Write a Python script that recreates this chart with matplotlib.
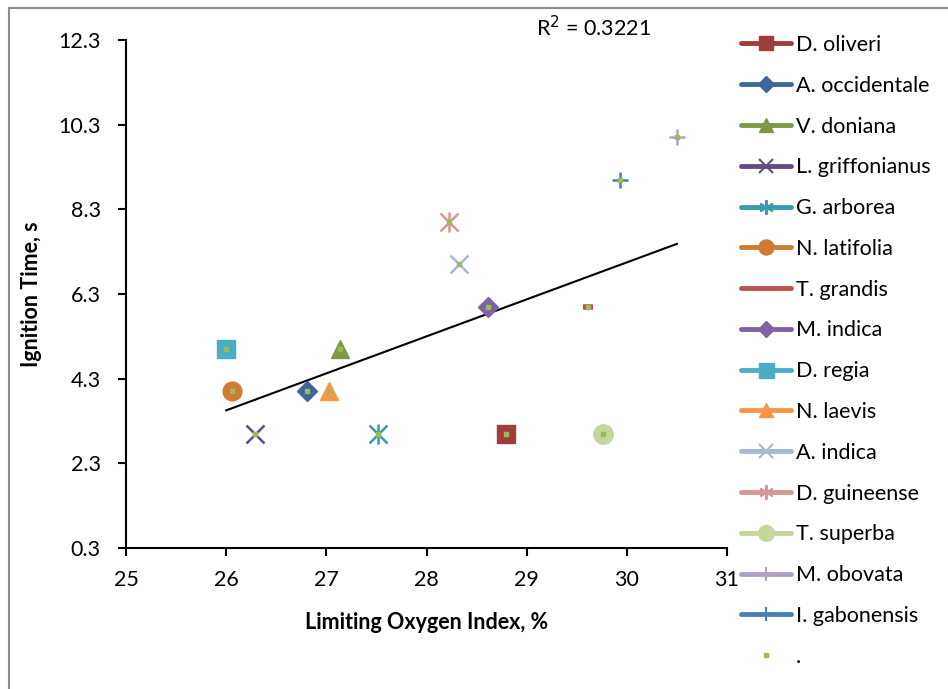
import numpy as np
import matplotlib.pyplot as plt
from matplotlib.lines import Line2D
from matplotlib.patches import Rectangle

plt.rcParams['font.family'] = ['Lato', 'DejaVu Sans']

species = ['D. oliveri', 'A. occidentale', 'V. doniana', 'L. griffonianus',
           'G. arborea', 'N. latifolia', 'T. grandis', 'M. indica', 'D. regia',
           'N. laevis', 'A. indica', 'D. guineense', 'T. superba', 'M. obovata',
           'I. gabonensis']
loi = [28.79, 26.81, 27.14, 26.29, 27.52, 26.06, 29.61, 28.61, 26.00,
       27.03, 28.32, 28.22, 29.76, 30.50, 29.93]
ign_time = [3.0, 4.0, 5.0, 3.0, 3.0, 4.0, 6.0, 6.0, 5.0, 4.0, 7.0, 8.0, 3.0, 10.0, 9.0]

colors = ['#9E3D3A', '#3D679C', '#7D9945', '#664C85', '#3A9AAF', '#D07A33',
          '#C0504D', '#7F62A1', '#4BACC6', '#F79646', '#A5B8D6', '#D99694',
          '#C3D69B', '#B2A1C7', '#4A7EBB']
markers = ['s', 'D', '^', 'x', '*', 'o', '_', 'D', 's', '^', 'x', '*', 'o', '+', '+']
msizes = [13, 10, 13, 13, 13, 13.5, 7, 10, 13.5, 13, 13, 13, 14, 12, 12]

fig = plt.figure(figsize=(9.48, 6.89), dpi=100)
ax = fig.add_axes([126 / 948, 1 - 548 / 689, 601 / 948, 508 / 689])

handles = []
for name, x, y, c, m, s in zip(species, loi, ign_time, colors, markers, msizes):
    if m == '*':
        # asterisk: an x with a vertical bar through it
        ax.plot(x, y, marker='x', ms=s, mew=1.8, color=c, ls='none', zorder=3)
        ax.plot(x, y, marker='|', ms=s * 1.1, mew=1.8, color=c, ls='none', zorder=3)
        hm = (6, 2, 0)
    elif m == '_':
        ax.plot(x, y, marker=m, ms=s, mew=4, color=c, ls='none', zorder=3)
        hm = m
    elif m in ('x', '+'):
        ax.plot(x, y, marker=m, ms=s, mew=1.8, color=c, ls='none', zorder=3)
        hm = m
    else:
        ax.plot(x, y, marker=m, ms=s, color=c, mec=c, ls='none', zorder=3)
        hm = m
    handles.append(Line2D([], [], color=c, lw=3.5, marker=hm,
                          ms=s * 0.8, mew=1.5 if m in ('x', '+', '*') else 1,
                          mec=c, mfc=c, solid_capstyle='round'))

# combined series with linear trendline
ax.plot(loi, ign_time, ls='none', marker='s', ms=2.2, color='#9BBB59', zorder=4)
handles.append(Line2D([], [], ls='none', marker='s', ms=2.2, color='#9BBB59'))
labels = species + ['.']

k, b = np.polyfit(loi, ign_time, 1)
xs = np.array([min(loi), max(loi)])
ax.plot(xs, k * xs + b, color='black', lw=1.5, zorder=2)
fig.text(536 / 948, 1 - 28 / 689, 'R$^2$ = 0.3221', fontsize=15.5, va='center')

ax.set_xlim(25, 31)
ax.set_ylim(0.3, 12.3)
ax.set_xticks(np.arange(25, 32, 1))
ax.set_yticks(np.arange(0.3, 12.4, 2))
ax.set_yticklabels(['0.3', '2.3', '4.3', '6.3', '8.3', '10.3', '12.3'])
for side in ('top', 'right'):
    ax.spines[side].set_visible(False)
for side in ('left', 'bottom'):
    ax.spines[side].set_linewidth(1.5)
ax.tick_params(length=6, width=1.5, labelsize=15.5)
ax.tick_params(axis='y', pad=12)
ax.tick_params(axis='x', pad=10)
ax.set_xlabel('Limiting Oxygen Index, %', fontsize=15.5, fontweight='bold', labelpad=16)
ax.set_ylabel('Ignition Time, s', fontsize=15.5, fontweight='bold', labelpad=12)

fig.legend(handles, labels, loc='upper left', bbox_to_anchor=(741 / 948, 1 - 35 / 689),
           frameon=False, fontsize=15.5, handlelength=2.33, handletextpad=0.23,
           labelspacing=0.965, borderaxespad=0, borderpad=0)

fig.add_artist(Rectangle((9 / 948, -0.1), 1.2, 1 - 8 / 689 + 0.1,
                         transform=fig.transFigure, fill=False,
                         edgecolor='#8C8C8C', lw=1.5))

fig.savefig('out.png', dpi=100)
